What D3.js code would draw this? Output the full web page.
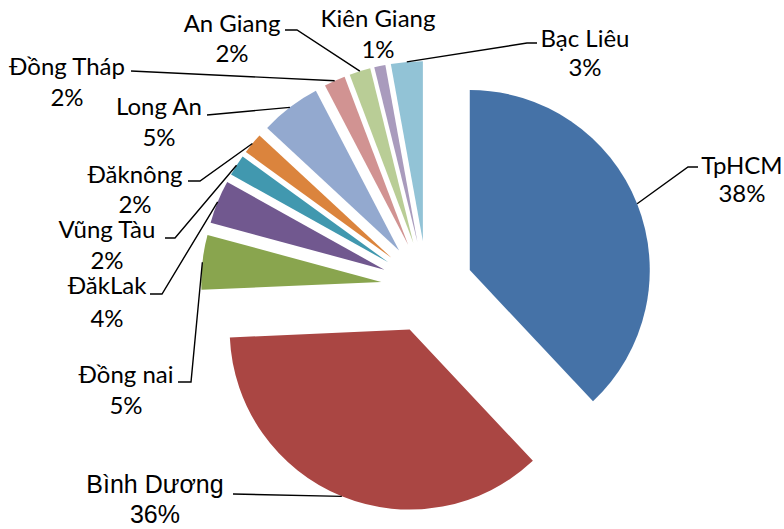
<!DOCTYPE html>
<html>
<head>
<meta charset="utf-8">
<script src="https://cdn.jsdelivr.net/npm/d3@7"></script>
<style>
html,body{margin:0;padding:0;background:#fff;}
svg{display:block;}
</style>
</head>
<body>
<svg id="chart" width="784" height="529"></svg>
<script>
// ---- data ----
const categories = ["TpHCM","Bình Dương","Đồng nai","ĐăkLak","Vũng Tàu","Đăknông","Long An","Đồng Tháp","An Giang","Kiên Giang","Bạc Liêu"];
const values = [38.0, 36.3, 4.9, 3.9, 1.9, 1.9, 5.45, 1.9, 1.9, 1.0, 2.85];
const colors = ["#4572A7","#AA4643","#89A54E","#71588F","#4198AF","#DB843D","#93A9CF","#D19392","#B9CD96","#A99BBD","#92C3D6"];

// ---- layout (label placement) ----
const labelLayout = {
  "TpHCM":      {x:742, y:[174,202], leader:[[698,167],[688,167]]},
  "Bình Dương": {x:155, y:[493,523], leader:[[233,494]], font:"'Liberation Sans', Arial, sans-serif", size:25},
  "Đồng nai":   {x:126, y:[383,414], leader:[[178,382],[191,382]]},
  "ĐăkLak":     {x:107, y:[294,327], leader:[[150,294],[162,294]]},
  "Vũng Tàu":   {x:107, y:[238,269], leader:[[165,238],[175,238]]},
  "Đăknông":    {x:135, y:[183,213], leader:[[188,181],[200,181]]},
  "Long An":    {x:159, y:[115,146], leader:[[207,115]]},
  "Đồng Tháp":  {x:67,  y:[75,106],  leader:[[131,71]]},
  "An Giang":   {x:232, y:[32,62],   leader:[[285,30],[297,30]]},
  "Kiên Giang": {x:378, y:[27,58],   leader:null},
  "Bạc Liêu":   {x:585, y:[47,76],   leader:[[537,43],[527,43]]}
};

const cx = 427, cy = 287, R = 180, explode = 46;
const svg = d3.select("#chart");
const total = d3.sum(values);
const data = categories.map((c,i)=>({name:c, value:values[i], color:colors[i]}));

const pie = d3.pie().sort(null).value(d=>d.value).startAngle(0).endAngle(2*Math.PI);
const arc = d3.arc().innerRadius(0).outerRadius(R);
const arcs = pie(data);

const g = svg.append("g").attr("transform",`translate(${cx},${cy})`);

function offset(a){
  const mid = (a.startAngle + a.endAngle)/2;
  return [explode*Math.sin(mid), -explode*Math.cos(mid)];
}

g.selectAll("path.slice").data(arcs).enter().append("path")
  .attr("class","slice")
  .attr("d", arc)
  .attr("fill", d=>d.data.color)
  .attr("transform", d=>{const o=offset(d); return `translate(${o[0]},${o[1]})`;});

const fmt = d3.format(".0%");

arcs.forEach(a=>{
  const L = labelLayout[a.data.name];
  const o = offset(a);
  const mid = (a.startAngle + a.endAngle)/2;
  const ex = cx + o[0] + R*Math.sin(mid);
  const ey = cy + o[1] - R*Math.cos(mid);
  if (L.leader){
    const pts = L.leader.concat([[ex,ey]]);
    svg.append("path")
      .attr("d", d3.line()(pts))
      .attr("fill","none")
      .attr("stroke","#000")
      .attr("stroke-width",1.4);
  }
  const font = L.font || "Lato, 'Open Sans', sans-serif";
  const size = L.size || 24;
  const lines = [a.data.name, fmt(a.data.value/total)];
  lines.forEach((t,i)=>{
    svg.append("text")
      .attr("x", L.x).attr("y", L.y[i])
      .attr("text-anchor","middle")
      .attr("font-family", font)
      .attr("font-size", size)
      .attr("fill","#000")
      .text(t);
  });
});
</script>
</body>
</html>
